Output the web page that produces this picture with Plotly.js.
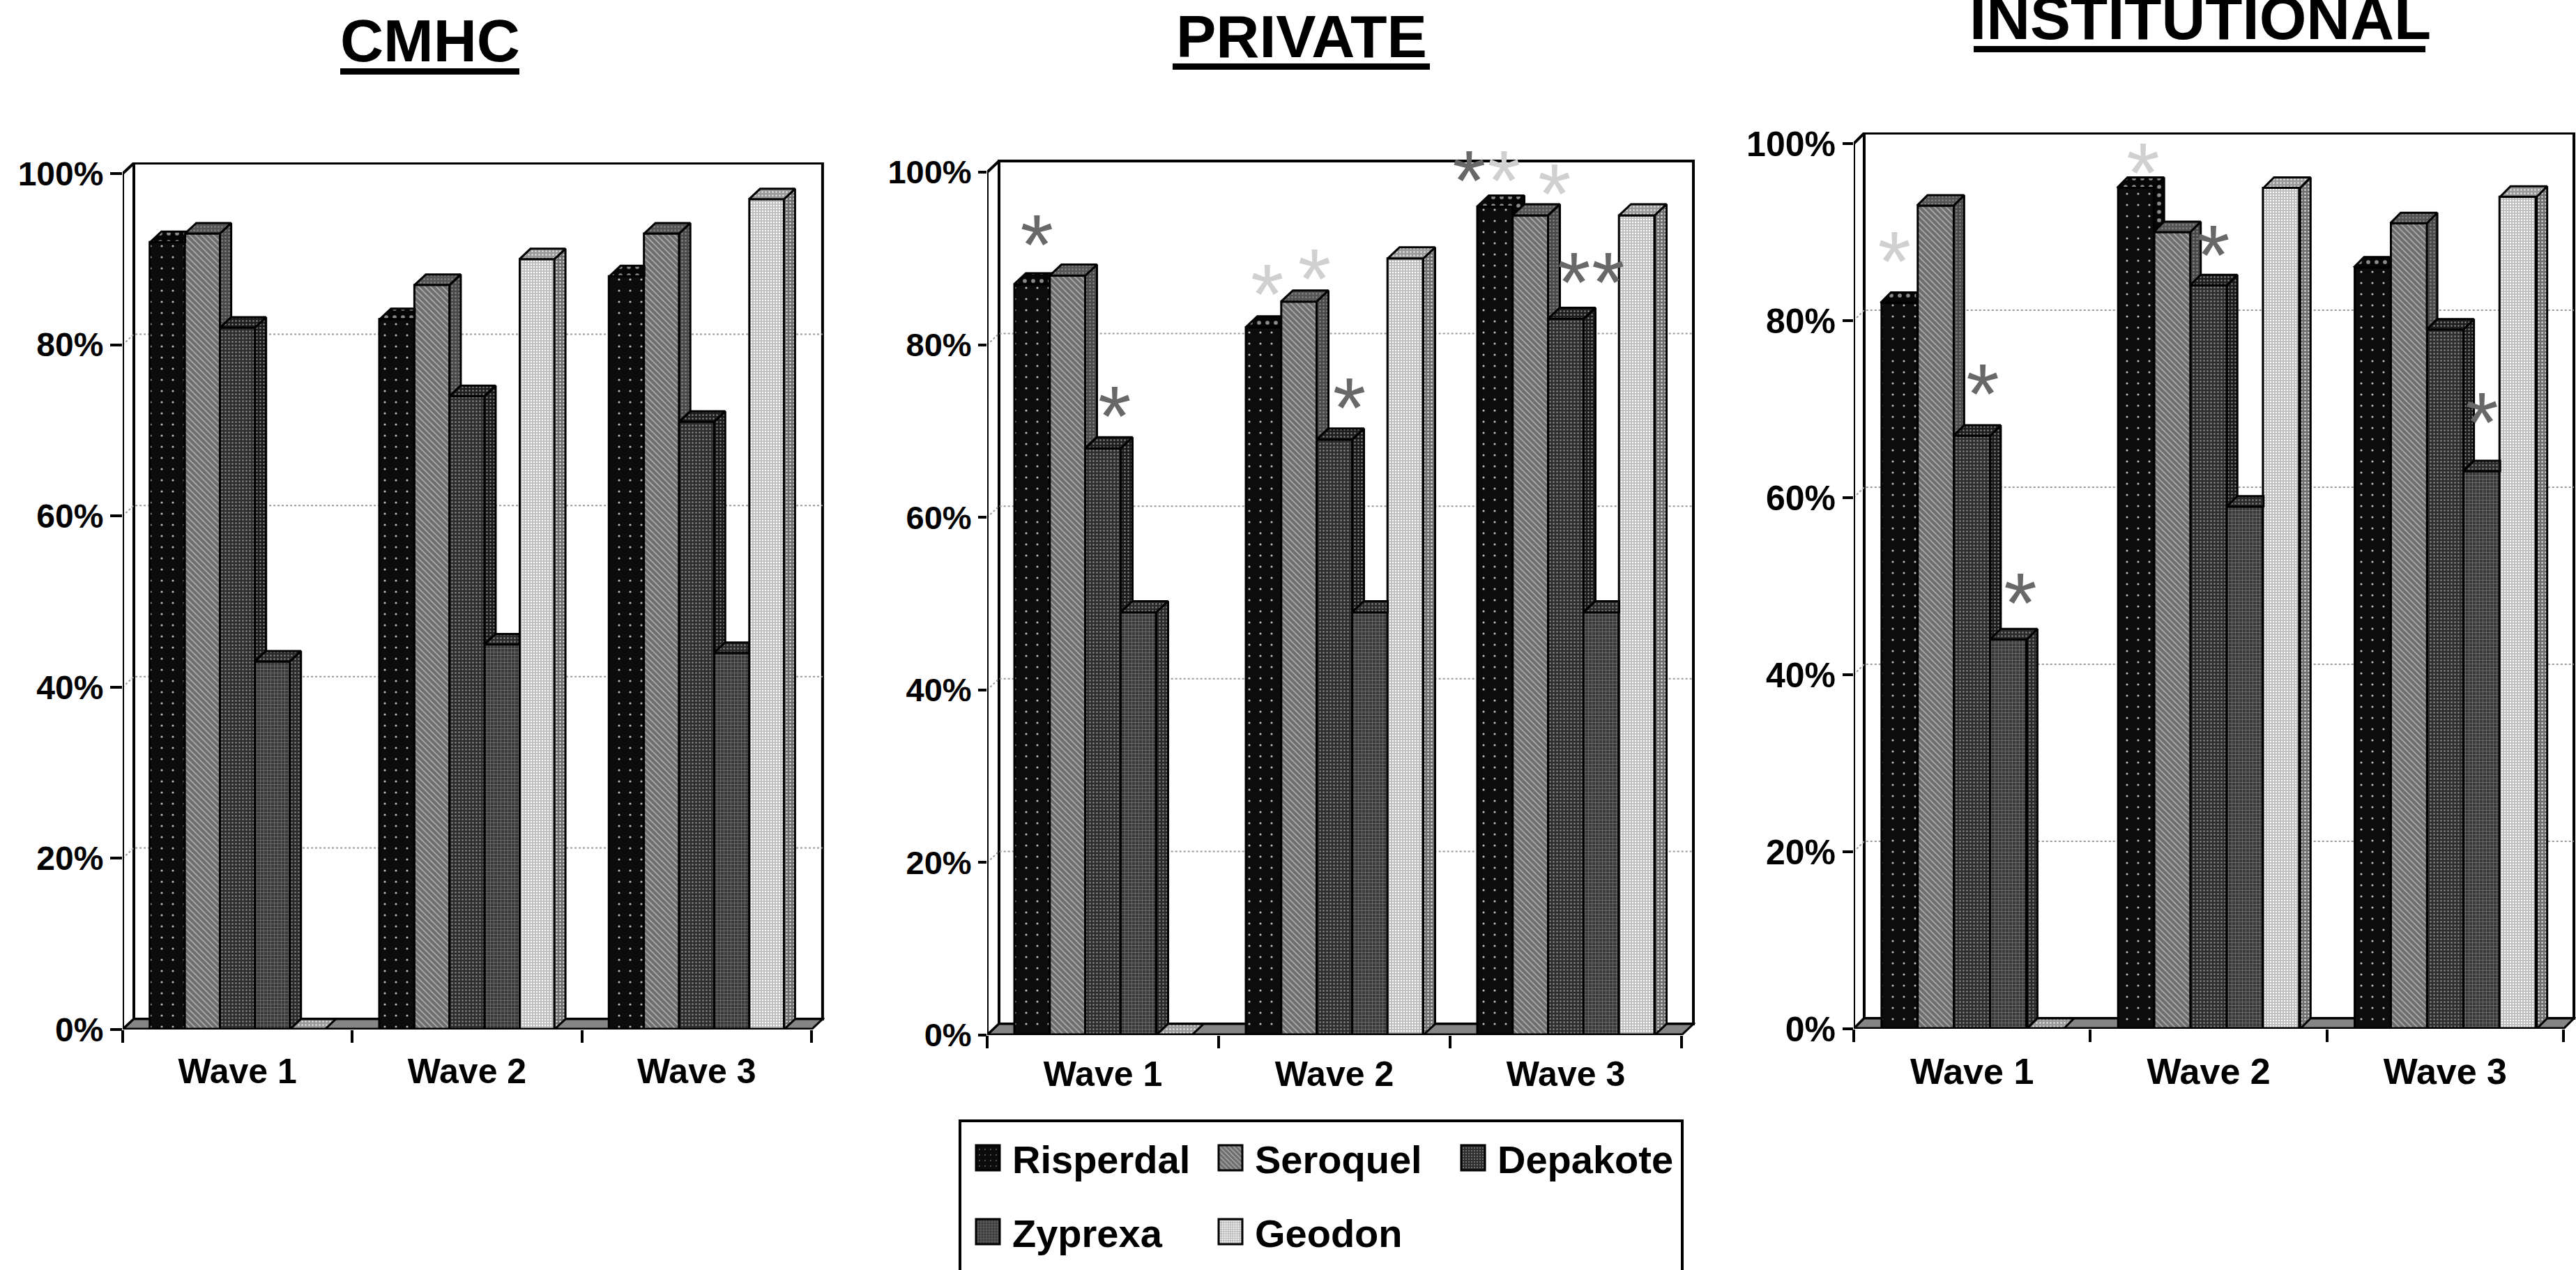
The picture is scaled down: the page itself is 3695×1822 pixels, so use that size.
<!DOCTYPE html>
<html><head><meta charset="utf-8">
<script src="https://cdn.plot.ly/plotly-3.0.1.min.js"></script>
<style>html,body{margin:0;padding:0;background:#fff;overflow:hidden}</style>
</head><body><div id="chart" style="width:3695px;height:1822px"></div>
<script>
// ---- chart data ----
const waves = ["Wave 1", "Wave 2", "Wave 3"];
const drugs = ["Risperdal", "Seroquel", "Depakote", "Zyprexa", "Geodon"];
const panelNames = ["CMHC", "PRIVATE", "INSTITUTIONAL"];
const yTicks = [0, 20, 40, 60, 80, 100];
const yTickText = ["0%", "20%", "40%", "60%", "80%", "100%"];

const cmhcRisperdal = [92, 83, 88];
const cmhcSeroquel  = [93, 87, 93];
const cmhcDepakote  = [82, 74, 71];
const cmhcZyprexa   = [43, 45, 44];
const cmhcGeodon    = [0, 90, 97];

const privateRisperdal = [87, 82, 96];
const privateSeroquel  = [88, 85, 95];
const privateDepakote  = [68, 69, 83];
const privateZyprexa   = [49, 49, 49];
const privateGeodon    = [0, 90, 95];

const instRisperdal = [82, 95, 86];
const instSeroquel  = [93, 90, 91];
const instDepakote  = [67, 84, 79];
const instZyprexa   = [44, 59, 63];
const instGeodon    = [0, 95, 94];

// significance asterisks: wave index, slot within the wave, height on the % scale, tone
const privateStarWave  = [0, 0, 1, 1, 1, 2, 2, 2, 2, 2];
const privateStarSlot  = [0.14, 2.33, 0.11, 1.44, 2.42, -0.72, 0.26, 1.68, 2.23, 3.19];
const privateStarLevel = [92.9, 73.1, 87.2, 89, 74, 100.4, 100.4, 98.8, 88.6, 88.6];
const privateStarTone  = ["d", "d", "l", "l", "d", "d", "l", "l", "d", "d"];
const instStarWave  = [0, 0, 0, 1, 1, 2];
const instStarSlot  = [-0.12, 2.29, 3.32, 0.21, 2.13, 3.0];
const instStarLevel = [88, 73, 49.4, 98, 88.7, 69.8];
const instStarTone  = ["l", "d", "d", "l", "d", "d"];

// ---- page geometry and styling ----
const W = 3695, H = 1822;
const FONT = "Liberation Sans";
const panels = [
  {left: 176,  cat: 329.3, y0: 1477, y100: 249, top: 233, dx: 16, dy: 15, gap: 0.24,  tick: 50, ytick: 48, ylen: 17, standoff: 26,
   series: [cmhcRisperdal, cmhcSeroquel, cmhcDepakote, cmhcZyprexa, cmhcGeodon],
   stars: null, title: {x: 617, y: 58, size: 86}, rule: [488, 745, 102.5]},
  {left: 1416, cat: 332,   y0: 1485, y100: 247, top: 229, dx: 17, dy: 16, gap: 0.232, tick: 50, ytick: 47, ylen: 12, standoff: 22,
   series: [privateRisperdal, privateSeroquel, privateDepakote, privateZyprexa, privateGeodon],
   stars: [privateStarWave, privateStarSlot, privateStarLevel, privateStarTone],
   title: {x: 1867, y: 52, size: 86}, rule: [1682, 2051, 95.5]},
  {left: 2659, cat: 340.3, y0: 1476, y100: 206, top: 190, dx: 15, dy: 15, gap: 0.226, tick: 52, ytick: 50, ylen: 15, standoff: 26,
   series: [instRisperdal, instSeroquel, instDepakote, instZyprexa, instGeodon],
   stars: [instStarWave, instStarSlot, instStarLevel, instStarTone],
   title: {x: 3156, y: 25, size: 87}, rule: [2831, 3479, 70.5]}
];
const frontStyle = [
  {color: "#0c0c0c", pattern: {shape: ".", size: 16, solidity: 0.03, fgcolor: "#bbbbbb", bgcolor: "#0c0c0c"}},
  {color: "#6e6e6e", pattern: {shape: "\\", size: 6, solidity: 0.25, fgcolor: "#b8b8b8", bgcolor: "#6e6e6e"}},
  {color: "#2e2e2e", pattern: {shape: ".", size: 5, solidity: 0.2, fgcolor: "#8a8a8a", bgcolor: "#2e2e2e"}},
  {color: "#3a3a3a", pattern: {shape: "+", size: 5, solidity: 0.25, fgcolor: "#7c7c7c", bgcolor: "#3a3a3a"}},
  {color: "#bcbcbc", pattern: {shape: ".", size: 4, solidity: 0.3, fgcolor: "#ffffff", bgcolor: "#bcbcbc"}}
];
const faceStyle = [
  {top: "#060606", side: "#060606"},
  {top: "#555555", side: "#4a4a4a"},
  {top: "#1e1e1e", side: "#1a1a1a"},
  {top: "#2a2a2a", side: "#2a2a2a"},
  {top: "#9a9a9a", side: "#707070"}
];
const STAR_FONT = 122, STAR_SHIFT_PX = 28;
const starColor = {d: "#686868", l: "#d0d0d0"};
const px = v => v / W, py = v => (H - v) / H;

const traces = [], shapes = [], annotations = [], layout = {};

panels.forEach((p, pi) => {
  const sfx = pi === 0 ? "" : String(pi + 1);
  const xa = "x" + sfx, ya = "y" + sfx;
  const pct = (p.y0 - p.y100) / 100;          // pixels per percent
  const dX = p.dx / p.cat, dY = p.dy / pct;   // the 3-D depth, in axis units
  const right = p.left + 3 * p.cat + p.dx + 3;
  const xRange = [-0.5, -0.5 + (right - p.left) / p.cat];
  const barW = (1 - p.gap) / drugs.length;

  layout["xaxis" + sfx] = {
    domain: [px(p.left), px(right)], range: xRange, anchor: ya, showgrid: false, zeroline: false,
    showline: false, tickmode: "array", tickvals: [0, 1, 2], ticktext: waves, ticks: "",
    ticklabelstandoff: p.standoff,
    tickfont: {family: FONT, size: p.tick, color: "#000", weight: 700},
    minor: {tickmode: "array", tickvals: [-0.5, 0.5, 1.5, 2.5], ticks: "outside", ticklen: 18,
            tickwidth: 4, tickcolor: "#000", showgrid: false}
  };
  layout["yaxis" + sfx] = {
    domain: [py(p.y0), py(p.top)], range: [0, (p.y0 - p.top) / pct], anchor: xa, showgrid: false,
    zeroline: false, showline: false, tickmode: "array", tickvals: yTicks, ticktext: yTickText,
    ticks: "outside", ticklen: p.ylen, tickwidth: 4, tickcolor: "#000",
    tickfont: {family: FONT, size: p.ytick, color: "#000", weight: 700}
  };

  // walls, floor and gridlines, drawn behind the bars
  const ref = {xref: xa, yref: ya};
  const path = pts => "M" + pts.map(q => q[0] + "," + q[1]).join("L") + "Z";
  const xL = -0.5, xR = 2.5, top = 100;
  shapes.push(Object.assign({type: "path", layer: "below", fillcolor: "#fff", line: {color: "#000", width: 4},
    path: path([[xL + dX, dY], [xR + dX, dY], [xR + dX, top + dY], [xL + dX, top + dY]])}, ref));
  shapes.push(Object.assign({type: "path", layer: "below", fillcolor: "#fff", line: {color: "#000", width: 4},
    path: path([[xL, 0], [xL + dX, dY], [xL + dX, top + dY], [xL, top]])}, ref));
  yTicks.slice(1, -1).forEach(t => {
    shapes.push(Object.assign({type: "path", layer: "below", line: {color: "#9a9a9a", width: 2, dash: "dot"},
      path: "M" + xL + "," + t + "L" + (xL + dX) + "," + (t + dY) + "L" + (xR + dX) + "," + (t + dY)}, ref));
  });
  shapes.push(Object.assign({type: "path", layer: "below", fillcolor: "#858585", line: {color: "#000", width: 3},
    path: path([[xL, 0], [xR, 0], [xR + dX, dY], [xL + dX, dY]])}, ref));
  // front axis lines
  shapes.push(Object.assign({type: "line", layer: "above", x0: xL, x1: xR, y0: 0, y1: 0, line: {color: "#000", width: 5}}, ref));
  shapes.push(Object.assign({type: "line", layer: "above", x0: xL, x1: xL, y0: 0, y1: top, line: {color: "#000", width: 4}}, ref));

  // front faces: real bars through the axis scales
  drugs.forEach((name, s) => {
    const inLegend = pi === 0;
    traces.push({
      type: "bar", name: name, x: [0, 1, 2], y: p.series[s], xaxis: xa, yaxis: ya,
      showlegend: inLegend, legend: s < 3 ? "legend" : "legend2", legendgroup: name,
      hovertemplate: name + " %{y}%<extra></extra>",
      marker: {color: frontStyle[s].color, pattern: frontStyle[s].pattern, line: {color: "#000", width: 3}}
    });
  });

  // top and side faces derived from the same values
  drugs.forEach((name, s) => {
    const tops = [], sides = [];
    [0, 1, 2].forEach(w => {
      const v = p.series[s][w];
      const vn = s < drugs.length - 1 ? p.series[s + 1][w] : 0;
      const xl = w + (s - drugs.length / 2) * barW, xr = xl + barW;
      if (vn >= v) {
        const over = Math.max(0, v + dY - vn) * dX / dY;
        const yc = Math.min(vn, v + dY);
        [[xl, v], [xr, v], [xr, yc], [xr + over, v + dY], [xl + dX, v + dY], [xl, v]].forEach(q => tops.push(q));
      } else {
        [[xl, v], [xr, v], [xr + dX, v + dY], [xl + dX, v + dY], [xl, v]].forEach(q => tops.push(q));
        [[xr, v], [xr + dX, v + dY], [xr + dX, vn + dY], [xr, vn], [xr, v]].forEach(q => sides.push(q));
      }
      tops.push([null, null]); sides.push([null, null]);
    });
    const face = (pts, color, size) => traces.push({
      type: "scatter", mode: "lines", x: pts.map(q => q[0]), y: pts.map(q => q[1]), xaxis: xa, yaxis: ya,
      fill: "toself", fillcolor: color, line: {color: "#000", width: 3}, showlegend: false, hoverinfo: "skip",
      fillpattern: {shape: ".", size: size, solidity: 0.18, fgcolor: s === 4 ? "#e8e8e8" : "#8a8a8a", bgcolor: color},
      cliponaxis: false
    });
    face(sides, faceStyle[s].side, s === 0 ? 12 : 5);
    face(tops, faceStyle[s].top, s === 0 ? 12 : 5);
  });

  // asterisks
  if (p.stars) {
    const [sw, ss, sl, st] = p.stars;
    traces.push({
      type: "scatter", mode: "text", xaxis: xa, yaxis: ya, showlegend: false, hoverinfo: "skip", cliponaxis: false,
      x: sw.map((w, i) => w + (ss[i] + 0.5 - drugs.length / 2) * barW),
      y: sl.map(v => v - STAR_SHIFT_PX / pct),
      text: sl.map(() => "*"), textposition: "middle center",
      textfont: {family: FONT, size: STAR_FONT, color: st.map(t => starColor[t])}
    });
  }

  // panel title and its rule
  annotations.push({xref: "paper", yref: "paper", x: px(p.title.x), y: py(p.title.y), xanchor: "center", yanchor: "middle",
    showarrow: false, text: panelNames[pi], font: {family: FONT, size: p.title.size, color: "#000", weight: 700}});
  shapes.push({type: "line", xref: "paper", yref: "paper", x0: px(p.rule[0]), x1: px(p.rule[1]),
    y0: py(p.rule[2]), y1: py(p.rule[2]), line: {color: "#000", width: 9}});
});

// legend box, running off the bottom of the page as in the picture
shapes.push({type: "path", xref: "paper", yref: "paper", layer: "above", line: {color: "#000", width: 4},
  path: "M" + px(1377) + "," + py(1900) + "L" + px(1377) + "," + py(1608) + "L" + px(2413) + "," + py(1608) + "L" + px(2413) + "," + py(1900)});

const legendBase = {orientation: "h", xanchor: "left", yanchor: "middle", itemwidth: 60, entrywidth: 273,
  entrywidthmode: "pixels", bgcolor: "rgba(0,0,0,0)", borderwidth: 0, traceorder: "normal", itemclick: false,
  font: {family: FONT, size: 56, color: "#000", weight: 700}};
Object.assign(layout, {
  width: W, height: H, margin: {l: 0, r: 0, t: 0, b: 0}, paper_bgcolor: "#fff", plot_bgcolor: "rgba(0,0,0,0)",
  barmode: "group", bargap: 0.235, bargroupgap: 0, shapes: shapes, annotations: annotations,
  legend: Object.assign({}, legendBase, {x: px(1382), y: py(1661)}),
  legend2: Object.assign({}, legendBase, {x: px(1382), y: py(1767)})
});

Plotly.newPlot("chart", traces, layout, {displayModeBar: false, staticPlot: true}).then(gd => {
  // enlarge the legend swatches to the picture's size
  gd.querySelectorAll(".legendpoints path").forEach(el => {
    el.setAttribute("d", "M17,18H-17V-18H17Z");
    el.style.strokeWidth = "3px";
  });
});
</script></body></html>
